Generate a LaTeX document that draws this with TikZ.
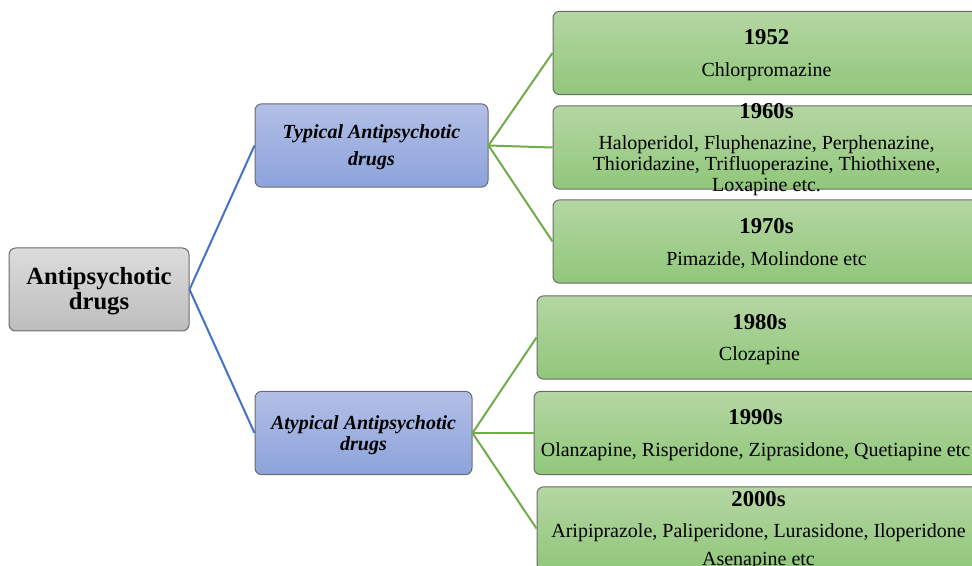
\documentclass[tikz,border=0pt]{standalone}
\usepackage{fontspec}
\setmainfont{Liberation Serif}
\usetikzlibrary{positioning}
\usepackage{xcolor}
\definecolor{apgraytop}{HTML}{DCDCDC}
\definecolor{apgraybot}{HTML}{BDBDBD}
\definecolor{apbluetop}{HTML}{B3BFE6}
\definecolor{apbluebot}{HTML}{8CA3DB}
\definecolor{apgreentop}{HTML}{B5D6A3}
\definecolor{apgreenbot}{HTML}{90C77A}
\definecolor{apedge}{HTML}{6B6B6B}
\definecolor{apblue}{HTML}{4472C4}
\definecolor{apgreen}{HTML}{70AD47}

\tikzset{
  basebox/.style={draw=apedge, line width=0.75pt, rounded corners=5pt,
                  align=center, inner sep=0pt},
  rootbox/.style={basebox, top color=apgraytop, bottom color=apgraybot,
                  minimum width=135pt, minimum height=62.25pt,
                  font=\fontsize{18.5}{18.75}\selectfont\bfseries},
  classbox/.style={basebox, top color=apbluetop, bottom color=apbluebot,
                   minimum height=62.5pt,
                   font=\fontsize{15}{15.75}\selectfont\bfseries\itshape},
  erabox/.style={basebox, top color=apgreentop, bottom color=apgreenbot,
                 minimum height=62.5pt, font=\fontsize{15}{15.75}\selectfont},
  eratext/.style={align=center, inner sep=0pt, font=\fontsize{15}{15.75}\selectfont},
  bluelink/.style={draw=apblue, line width=1.5pt},
  greenlink/.style={draw=apgreen, line width=1.5pt},
}
% a raised first line pushes the text block a little lower in its box
\newcommand{\lift}[1]{\rule{0pt}{#1}}
\newcommand{\erahead}[1]{{\fontsize{17}{17}\selectfont\bfseries\lift{14.5pt}#1}\\[7.75pt]}

\begin{document}
\begin{tikzpicture}[x=0.75pt, y=-0.75pt]
        \useasboundingbox (0,0) rectangle (972,566);
        \clip (0,0) rectangle (972,566);
        % root
        \node[rootbox] (root) at (99,289.5) {\lift{16pt}Antipsychotic\\drugs};
        % classes
        \node[classbox, minimum width=174.75pt] (typ) at (371.5,145.5)
              {\lift{13.5pt}Typical Antipsychotic\\[4.5pt]drugs};
        \node[classbox, minimum width=162.75pt] (atyp) at (363.5,433)
              {\lift{13.5pt}Atypical Antipsychotic\\drugs};
        % typical eras
        \node[erabox, minimum width=320.25pt] (e1952) at (766.5,53)
              {\erahead{1952}Chlorpromazine};
        \node[erabox, minimum width=320.25pt] (e1960) at (766.5,147.5) {};
        \node[eratext] (e1960txt) at (e1960.center)
              {\erahead{1960s}Haloperidol, Fluphenazine, Perphenazine,\\
               Thioridazine, Trifluoperazine, Thiothixene,\\Loxapine etc.};
        \node[erabox, minimum width=320.25pt] (e1970) at (766.5,241.5)
              {\erahead{1970s}Pimazide, Molindone etc};
        % atypical eras
        \node[erabox, minimum width=333.75pt] (e1980) at (759.5,337.5)
              {\erahead{1980s}Clozapine};
        \node[erabox, minimum width=332.25pt] (e1990) at (755.5,433)
              {\erahead{1990s}Olanzapine, Risperidone, Ziprasidone, Quetiapine etc};
        \node[erabox, minimum width=332.25pt] (e2000) at (758.5,528.5)
              {\erahead{2000s}Aripiprazole, Paliperidone, Lurasidone, Iloperidone\\[5pt]
               Asenapine etc};
        % links
        \draw[bluelink] (root.east) -- (typ.west);
        \draw[bluelink] (root.east) -- (atyp.west);
        \draw[greenlink] (typ.east) -- (e1952.west);
        \draw[greenlink] (typ.east) -- (e1960.west);
        \draw[greenlink] (typ.east) -- (e1970.west);
        \draw[greenlink] (atyp.east) -- (e1980.west);
        \draw[greenlink] (atyp.east) -- (e1990.west);
        \draw[greenlink] (atyp.east) -- (e2000.west);
      \end{tikzpicture}
\end{document}
